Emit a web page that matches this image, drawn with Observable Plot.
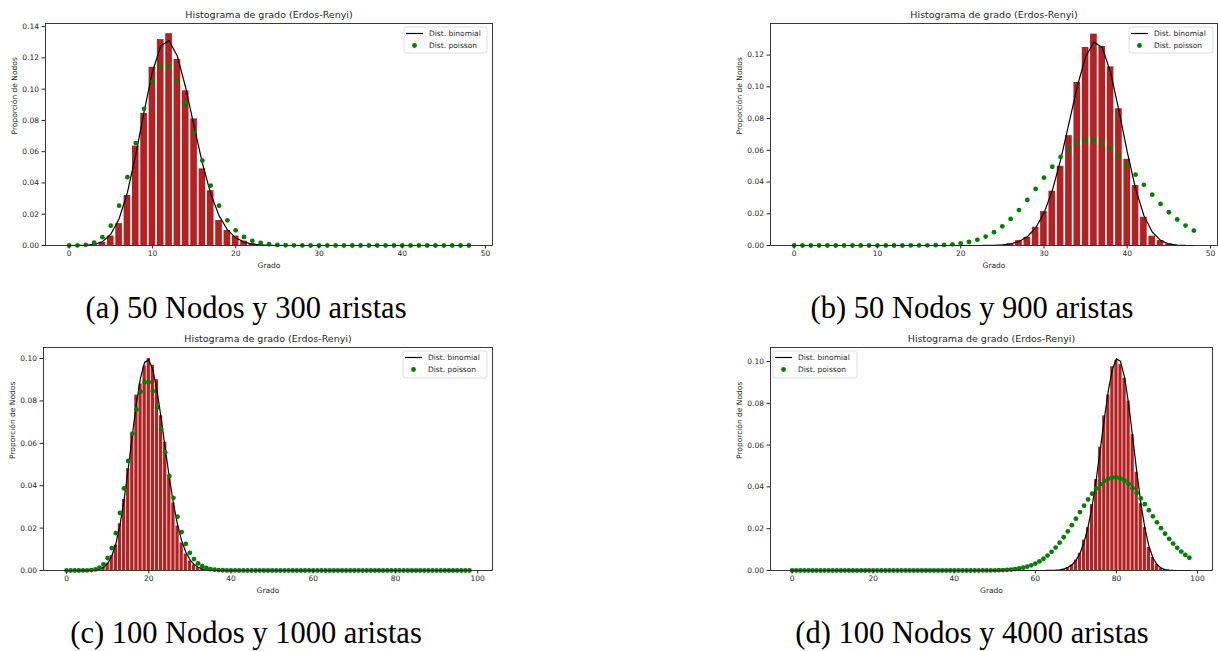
<!DOCTYPE html>
<html>
<head>
<meta charset="utf-8">
<script src="https://cdn.jsdelivr.net/npm/d3@7"></script>
<script src="https://cdn.jsdelivr.net/npm/@observablehq/plot@0.6"></script>
<style>
  html, body { margin: 0; padding: 0; background: #fff; }
  #page { position: relative; width: 1218px; height: 651px; overflow: hidden; background: #fff; }
  .panel { position: absolute; }
  .caption { position: absolute; width: 600px; text-align: center; font-family: "Liberation Serif", serif; font-size: 30.5px; line-height: 30px; color: #000; white-space: nowrap; }
  .legend { position: absolute; }
</style>
</head>
<body>
<div id="page"></div>
<script>
// ---------------- DATA ----------------
const titleText = "Histograma de grado (Erdos-Renyi)";
const xLabel = "Grado";
const yLabel = "Proporción de Nodos";
const legendLabels = ["Dist. binomial", "Dist. poisson"];
const captions = ["(a) 50 Nodos y 300 aristas", "(b) 50 Nodos y 900 aristas", "(c) 100 Nodos y 1000 aristas", "(d) 100 Nodos y 4000 aristas"];

const ticks50 = [0, 10, 20, 30, 40, 50];
const ticks100 = [0, 20, 40, 60, 80, 100];
const yTicksA = [0, 0.02, 0.04, 0.06, 0.08, 0.10, 0.12, 0.14];
const yTicksB = [0, 0.02, 0.04, 0.06, 0.08, 0.10, 0.12];
const yTicksCD = [0, 0.02, 0.04, 0.06, 0.08, 0.10];

// (a) 50 nodos, 300 aristas
const aBarDeg = [3, 4, 5, 6, 7, 8, 9, 10, 11, 12, 13, 14, 15, 16, 17, 18, 19, 20, 21, 22, 23];
const aBarVal = [0.0004, 0.0020, 0.0060, 0.0140, 0.0320, 0.0636, 0.0845, 0.1140, 0.1317, 0.1355, 0.1190, 0.0990, 0.0810, 0.0490, 0.0350, 0.0160, 0.0096, 0.0060, 0.0028, 0.0012, 0.0004];
const aBinom = [
  0.000001, 0.000017, 0.00013, 0.00066, 0.00246, 0.00718, 0.01708, 0.03402, 0.05792, 0.08557,
  0.1110, 0.1276, 0.1311, 0.1210, 0.1009, 0.07635, 0.05262, 0.03313, 0.01910, 0.01011,
  0.00492, 0.00220, 0.00091, 0.00035, 0.00012, 0.00004, 0, 0, 0, 0,
  0, 0, 0, 0, 0, 0, 0, 0, 0, 0,
  0, 0, 0, 0, 0, 0, 0, 0, 0];
const aPois = [
  0.000006, 0.000074, 0.00044, 0.00177, 0.0053, 0.0127, 0.0255, 0.0437, 0.0655, 0.0874,
  0.1048, 0.1144, 0.1144, 0.1056, 0.0905, 0.0724, 0.0543, 0.0383, 0.0255, 0.0161,
  0.0097, 0.0055, 0.0030, 0.0016, 0.0008, 0.00038, 0.00017, 0.00008, 0.00003, 0.00001,
  0, 0, 0, 0, 0, 0, 0, 0, 0, 0,
  0, 0, 0, 0, 0, 0, 0, 0, 0];

// (b) 50 nodos, 900 aristas
const bBarDeg = [26, 27, 28, 29, 30, 31, 32, 33, 34, 35, 36, 37, 38, 39, 40, 41, 42, 43, 44, 45];
const bBarVal = [0.0010, 0.0031, 0.0052, 0.0115, 0.0214, 0.0342, 0.0499, 0.0692, 0.1028, 0.1248, 0.1332, 0.1254, 0.1126, 0.0862, 0.0543, 0.0378, 0.0178, 0.0059, 0.0031, 0.0010];
const bBinom = [
  0, 0, 0, 0, 0, 0, 0, 0, 0, 0,
  0, 0, 0, 0, 0, 0, 0, 0, 0, 0,
  0, 0, 0.000016, 0.00005, 0.00015, 0.00042, 0.00107, 0.00253, 0.00551, 0.01105,
  0.02040, 0.03463, 0.05394, 0.07695, 0.10028, 0.11902, 0.12818, 0.12472, 0.10907, 0.08520,
  0.05899, 0.03586, 0.01891, 0.00853, 0.00322, 0.00099, 0.00024, 0.00004, 0.000005];
const bPois = [
  0, 0, 0, 0, 0, 0, 0, 0, 0, 0,
  0, 0, 0, 0.000007, 0.000017, 0.00004, 0.000088, 0.000187, 0.000374, 0.000709,
  0.00128, 0.00219, 0.00358, 0.0056, 0.0084, 0.01209, 0.01674, 0.02232, 0.02869, 0.03562,
  0.04274, 0.04963, 0.05584, 0.06091, 0.0645, 0.06634, 0.06634, 0.06455, 0.06115, 0.05645,
  0.0508, 0.04461, 0.03824, 0.03201, 0.02619, 0.02095, 0.0164, 0.01256, 0.00942];

// (c) 100 nodos, 1000 aristas
const cBarDeg = [8, 9, 10, 11, 12, 13, 14, 15, 16, 17, 18, 19, 20, 21, 22, 23, 24, 25, 26, 27, 28, 29, 30, 31, 32, 33, 34];
const cBarVal = [0.0008, 0.0016, 0.0035, 0.0070, 0.0120, 0.0220, 0.0335, 0.0480, 0.0640, 0.0827, 0.0880, 0.0965, 0.1000, 0.0968, 0.0900, 0.0730, 0.0605, 0.0440, 0.0318, 0.0210, 0.0130, 0.0078, 0.0045, 0.0026, 0.0013, 0.0006, 0.0003];
const cBinom = [
  0, 0, 0, 0.0000005, 0.000003, 0.000015, 0.000059, 0.000197, 0.000573, 0.001467,
  0.003341, 0.006843, 0.012705, 0.021524, 0.033472, 0.048018, 0.063819, 0.078882, 0.090974, 0.098184,
  0.099425, 0.094689, 0.08499, 0.072032, 0.057746, 0.043857, 0.0316, 0.02163, 0.014081, 0.008727,
  0.005155, 0.002905, 0.001563, 0.000803, 0.000395, 0.000186, 0.000084, 0.000036, 0.000015, 0.000006,
  0.000002, 0, 0, 0, 0, 0, 0, 0, 0, 0,
  0, 0, 0, 0, 0, 0, 0, 0, 0, 0,
  0, 0, 0, 0, 0, 0, 0, 0, 0, 0,
  0, 0, 0, 0, 0, 0, 0, 0, 0, 0,
  0, 0, 0, 0, 0, 0, 0, 0, 0, 0,
  0, 0, 0, 0, 0, 0, 0, 0, 0];
const cPois = [
  0, 0, 0, 0.0000027, 0.000014, 0.000055, 0.000183, 0.000524, 0.00131, 0.00291,
  0.00582, 0.01058, 0.01763, 0.02712, 0.03874, 0.05165, 0.06457, 0.07596, 0.0844, 0.08884,
  0.08884, 0.08461, 0.07692, 0.06689, 0.05574, 0.04459, 0.0343, 0.02541, 0.01815, 0.01252,
  0.00834, 0.00538, 0.00336, 0.00204, 0.0012, 0.000686, 0.000381, 0.000206, 0.000108, 0.000055,
  0.000028, 0.000014, 0.000007, 0, 0, 0, 0, 0, 0, 0,
  0, 0, 0, 0, 0, 0, 0, 0, 0, 0,
  0, 0, 0, 0, 0, 0, 0, 0, 0, 0,
  0, 0, 0, 0, 0, 0, 0, 0, 0, 0,
  0, 0, 0, 0, 0, 0, 0, 0, 0, 0,
  0, 0, 0, 0, 0, 0, 0, 0, 0];

// (d) 100 nodos, 4000 aristas
const dBarDeg = [67, 68, 69, 70, 71, 72, 73, 74, 75, 76, 77, 78, 79, 80, 81, 82, 83, 84, 85, 86, 87, 88, 89, 90, 91, 92];
const dBarVal = [0.0006, 0.0013, 0.0027, 0.0050, 0.0082, 0.0145, 0.0205, 0.0315, 0.0435, 0.0590, 0.0740, 0.0840, 0.0975, 0.1005, 0.0985, 0.0920, 0.0810, 0.0650, 0.0470, 0.0320, 0.0205, 0.0110, 0.0062, 0.0030, 0.0012, 0.0004];
const dBinom = [
  0, 0, 0, 0, 0, 0, 0, 0, 0, 0,
  0, 0, 0, 0, 0, 0, 0, 0, 0, 0,
  0, 0, 0, 0, 0, 0, 0, 0, 0, 0,
  0, 0, 0, 0, 0, 0, 0, 0, 0, 0,
  0, 0, 0, 0, 0, 0, 0, 0, 0, 0,
  0, 0, 0, 0, 0, 0, 0, 0, 0, 0,
  0, 0.0000046, 0.000012, 0.000029, 0.000069, 0.000156, 0.00034, 0.000703, 0.001394, 0.002636,
  0.004757, 0.008181, 0.013396, 0.020861, 0.030862, 0.043314, 0.057593, 0.072434, 0.08602, 0.09628,
  0.101347, 0.100096, 0.092515, 0.079786, 0.063988, 0.047545, 0.032589, 0.020503, 0.011772, 0.006126,
  0.002866, 0.001194, 0.000437, 0.000139, 0.000037, 0.0000082, 0.0000014, 0, 0];
const dPois = [
  0, 0, 0, 0, 0, 0, 0, 0, 0, 0,
  0, 0, 0, 0, 0, 0, 0, 0, 0, 0,
  0, 0, 0, 0, 0, 0, 0, 0, 0, 0,
  0, 0, 0, 0, 0, 0, 0, 0, 0, 0,
  0, 0, 0, 0, 0, 0.000006, 0.000011, 0.000019, 0.000032, 0.000053,
  0.000085, 0.000133, 0.000204, 0.000309, 0.000457, 0.000665, 0.00095, 0.001333, 0.001839, 0.002493,
  0.003324, 0.004359, 0.005625, 0.007143, 0.008929, 0.010989, 0.01332, 0.015904, 0.018711, 0.021694,
  0.024793, 0.027936, 0.03104, 0.034016, 0.036774, 0.039226, 0.041291, 0.0429, 0.044, 0.044557,
  0.044557, 0.044007, 0.042934, 0.041382, 0.039411, 0.037093, 0.034505, 0.031729, 0.028845, 0.025928,
  0.023047, 0.020261, 0.017618, 0.015156, 0.012899, 0.010862, 0.009052, 0.007466, 0.006095];

// ---------------- DRAW ----------------
const page = document.getElementById("page");
const toRows = (vals) => vals.map((v, i) => ({k: i, v}));
const toBars = (degs, vals) => degs.map((k, i) => ({k, v: vals[i]}));
const ink = "#262626";

function panel(cfg) {
  const bars = toBars(cfg.barDeg, cfg.barVal);
  const binom = toRows(cfg.binom);
  const pois = toRows(cfg.pois);
  const chart = Plot.plot({
    width: cfg.width, height: cfg.height,
    marginLeft: cfg.ml, marginRight: cfg.mr, marginTop: cfg.mt, marginBottom: cfg.mb,
    x: {domain: cfg.xDomain},
    y: {domain: cfg.yDomain},
    style: {fontFamily: "DejaVu Sans", fontSize: "7.5px", color: ink, background: "transparent", overflow: "visible"},
    marks: [
      Plot.rectY(bars, {x1: d => d.k - 0.4, x2: d => d.k + 0.4, y: "v", fill: "#b22222"}),
      Plot.line(binom, {x: "k", y: "v", stroke: "black", strokeWidth: 1.2}),
      Plot.dot(pois, {x: "k", y: "v", fill: "green", r: 2.4}),
      Plot.frame({stroke: ink, strokeWidth: 0.9}),
      Plot.axisX({ticks: cfg.xTicks, tickFormat: d3.format("d"), tickSize: 3.5, tickPadding: 2, label: null, stroke: ink}),
      Plot.axisY({ticks: cfg.yTicks, tickFormat: d3.format(".2f"), tickSize: 3.5, tickPadding: 3, label: null, stroke: ink}),
      Plot.text([titleText], {text: d => d, frameAnchor: "top", lineAnchor: "middle", dy: -9, fontSize: 9.5, fill: ink}),
      Plot.text([xLabel], {text: d => d, frameAnchor: "bottom", lineAnchor: "middle", dy: 20, fill: ink}),
      Plot.text([yLabel], {text: d => d, frameAnchor: "left", rotate: -90, dx: -31, fill: ink})
    ]
  });
  chart.classList.add("panel");
  chart.style.left = cfg.left + "px";
  chart.style.top = cfg.top + "px";
  page.appendChild(chart);

  // legend box
  const lg = d3.create("svg").attr("class", "legend").attr("width", cfg.legend.w + 2).attr("height", cfg.legend.h + 2)
    .style("left", (cfg.legend.x - 1) + "px").style("top", (cfg.legend.y - 1) + "px");
  lg.append("rect").attr("x", 1).attr("y", 1).attr("width", cfg.legend.w).attr("height", cfg.legend.h)
    .attr("rx", 2.5).attr("fill", "rgba(255,255,255,0.8)").attr("stroke", "#d6d6d6").attr("stroke-width", 0.8);
  lg.append("line").attr("x1", 3).attr("x2", 20).attr("y1", 7.5).attr("y2", 7.5).attr("stroke", "black").attr("stroke-width", 1.2);
  lg.append("circle").attr("cx", 11.5).attr("cy", 19.5).attr("r", 2.4).attr("fill", "green");
  lg.selectAll("text").data(legendLabels).join("text")
    .attr("x", 26).attr("y", (d, i) => 7.5 + i * 12).attr("dy", "0.35em")
    .attr("font-family", "DejaVu Sans").attr("font-size", 7.5).attr("fill", ink).text(d => d);
  page.appendChild(lg.node());

  const cap = document.createElement("div");
  cap.className = "caption";
  cap.textContent = cfg.caption;
  cap.style.left = (cfg.capCx - 300) + "px";
  cap.style.top = cfg.capTop + "px";
  page.appendChild(cap);
}

panel({
  barDeg: aBarDeg, barVal: aBarVal, binom: aBinom, pois: aPois,
  left: 0, top: 0, width: 609, height: 272, ml: 45, mr: 117, mt: 23, mb: 27,
  xDomain: [-2.84, 50.84], yDomain: [0, 0.142], xTicks: ticks50, yTicks: yTicksA,
  legend: {x: 404, y: 27, w: 83, h: 26}, caption: captions[0], capCx: 246, capTop: 293
});
panel({
  barDeg: bBarDeg, barVal: bBarVal, binom: bBinom, pois: bPois,
  left: 609, top: 0, width: 609, height: 272, ml: 161, mr: 1, mt: 23, mb: 27,
  xDomain: [-2.84, 50.84], yDomain: [0, 0.1399], xTicks: ticks50, yTicks: yTicksB,
  legend: {x: 1129, y: 27, w: 84, h: 26}, caption: captions[1], capCx: 972, capTop: 293
});
panel({
  barDeg: cBarDeg, barVal: cBarVal, binom: cBinom, pois: cPois,
  left: 0, top: 325, width: 609, height: 272, ml: 43, mr: 117, mt: 22, mb: 27,
  xDomain: [-5.6, 103.6], yDomain: [0, 0.1052], xTicks: ticks100, yTicks: yTicksCD,
  legend: {x: 403, y: 351, w: 84, h: 27}, caption: captions[2], capCx: 246, capTop: 618
});
panel({
  barDeg: dBarDeg, barVal: dBarVal, binom: dBinom, pois: dPois,
  left: 609, top: 325, width: 609, height: 272, ml: 161, mr: 6, mt: 22, mb: 27,
  xDomain: [-5.34, 103.7], yDomain: [0, 0.1067], xTicks: ticks100, yTicks: yTicksCD,
  legend: {x: 773, y: 351, w: 84, h: 27}, caption: captions[3], capCx: 972, capTop: 618
});
</script>
</body>
</html>
